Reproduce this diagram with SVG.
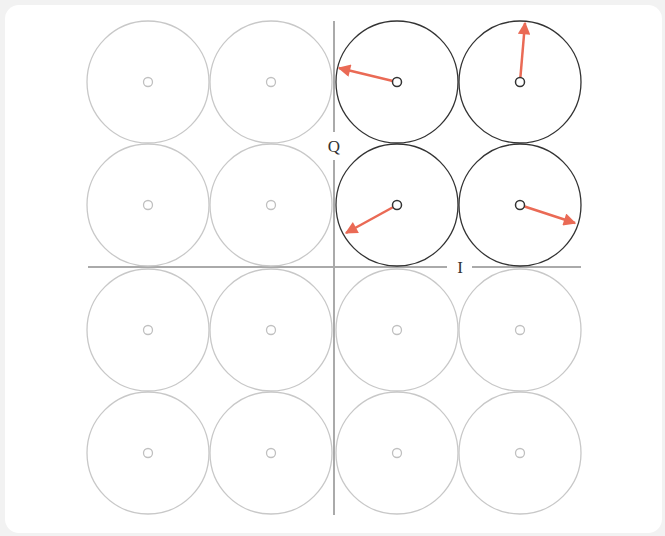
<svg xmlns="http://www.w3.org/2000/svg" width="665" height="536" viewBox="0 0 665 536">
<style>
.g{fill:none;stroke:#c8c8c8;stroke-width:1.3}
.d{fill:none;stroke:#333;stroke-width:1.3}
.gc{fill:#fff;stroke:#c0c0c0;stroke-width:1.3}
.dc{fill:#fff;stroke:#333;stroke-width:1.5}
.ax{stroke:#aaa;stroke-width:2;fill:none}
.ar{stroke:#ea6a55;stroke-width:2.5;fill:none}
.lb{font-family:"Liberation Serif",serif;font-size:17px;fill:#333}
</style>
<defs>
<marker id="ah" viewBox="0 0 10 10" refX="9" refY="5" markerWidth="5.5" markerHeight="5" markerUnits="strokeWidth" orient="auto">
<path d="M0,0 L10,5 L0,10 z" fill="#ea6a55"/>
</marker>
</defs>
<rect x="0" y="0" width="665" height="536" fill="#f2f2f2"/>
<rect x="5" y="5" width="657" height="528" rx="14" fill="#fff"/>
<g id="axes">
<path class="ax" d="M334,21 V132 M334,160 V515"/>
<path class="ax" d="M88,267 H447 M472,267 H581"/>
<text class="lb" x="334" y="152" text-anchor="middle">Q</text>
<text class="lb" x="460" y="273" text-anchor="middle">I</text>
</g>
<g id="grid">
<g id="c00"><circle class="g" cx="148" cy="82" r="61"/><circle class="gc" cx="148" cy="82" r="4.5"/></g>
<g id="c01"><circle class="g" cx="271" cy="82" r="61"/><circle class="gc" cx="271" cy="82" r="4.5"/></g>
<g id="c10"><circle class="g" cx="148" cy="205" r="61"/><circle class="gc" cx="148" cy="205" r="4.5"/></g>
<g id="c11"><circle class="g" cx="271" cy="205" r="61"/><circle class="gc" cx="271" cy="205" r="4.5"/></g>
<g id="c20"><circle class="g" cx="148" cy="330" r="61"/><circle class="gc" cx="148" cy="330" r="4.5"/></g>
<g id="c21"><circle class="g" cx="271" cy="330" r="61"/><circle class="gc" cx="271" cy="330" r="4.5"/></g>
<g id="c22"><circle class="g" cx="397" cy="330" r="61"/><circle class="gc" cx="397" cy="330" r="4.5"/></g>
<g id="c23"><circle class="g" cx="520" cy="330" r="61"/><circle class="gc" cx="520" cy="330" r="4.5"/></g>
<g id="c30"><circle class="g" cx="148" cy="453" r="61"/><circle class="gc" cx="148" cy="453" r="4.5"/></g>
<g id="c31"><circle class="g" cx="271" cy="453" r="61"/><circle class="gc" cx="271" cy="453" r="4.5"/></g>
<g id="c32"><circle class="g" cx="397" cy="453" r="61"/><circle class="gc" cx="397" cy="453" r="4.5"/></g>
<g id="c33"><circle class="g" cx="520" cy="453" r="61"/><circle class="gc" cx="520" cy="453" r="4.5"/></g>
<g id="c02"><circle class="d" cx="397" cy="82" r="61"/></g>
<g id="c03"><circle class="d" cx="520" cy="82" r="61"/></g>
<g id="c12"><circle class="d" cx="397" cy="205" r="61"/></g>
<g id="c13"><circle class="d" cx="520" cy="205" r="61"/></g>
</g>
<g id="connectors">
<line class="ar" x1="397" y1="82" x2="339" y2="68" marker-end="url(#ah)"/>
<line class="ar" x1="520" y1="82" x2="525" y2="23" marker-end="url(#ah)"/>
<line class="ar" x1="397" y1="205" x2="346" y2="233" marker-end="url(#ah)"/>
<line class="ar" x1="520" y1="205" x2="575" y2="223" marker-end="url(#ah)"/>
</g>
<g id="centers">
<circle class="dc" cx="397" cy="82" r="4.5"/>
<circle class="dc" cx="520" cy="82" r="4.5"/>
<circle class="dc" cx="397" cy="205" r="4.5"/>
<circle class="dc" cx="520" cy="205" r="4.5"/>
</g>
</svg>
